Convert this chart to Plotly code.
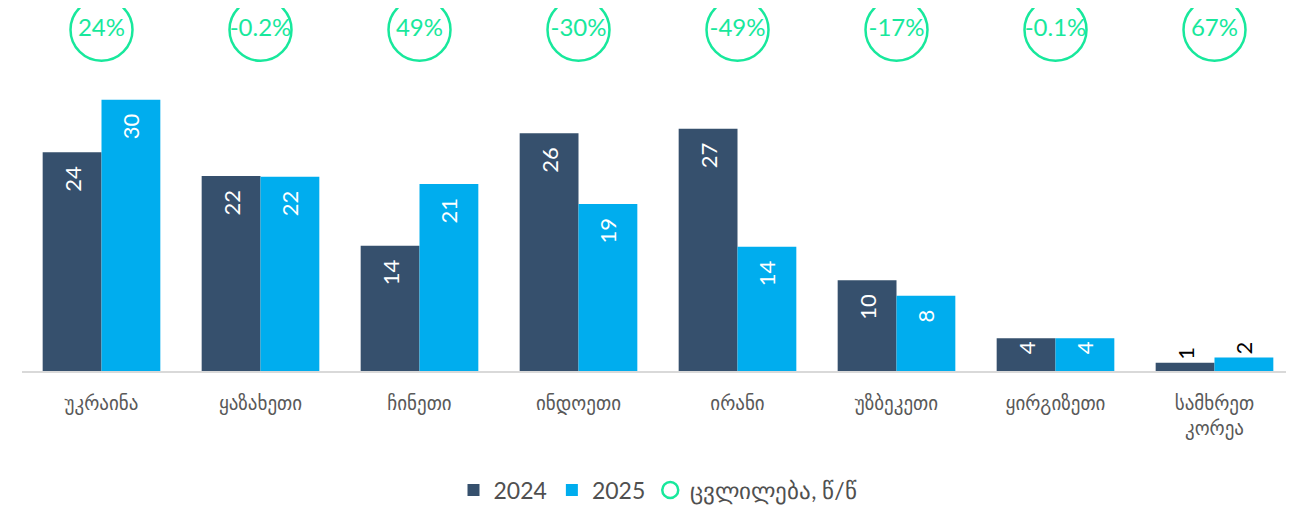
import plotly.graph_objects as go

categories = ["უკრაინა", "ყაზახეთი", "ჩინეთი", "ინდოეთი", "ირანი", "უზბეკეთი", "ყირგიზეთი", "სამხრეთ<br>კორეა"]
values_2024 = [24.1, 21.5, 13.8, 26.2, 26.7, 10.0, 3.6, 0.9]
values_2025 = [29.9, 21.4, 20.6, 18.4, 13.7, 8.3, 3.6, 1.5]
labels_2024 = ["24", "22", "14", "26", "27", "10", "4", "1"]
labels_2025 = ["30", "22", "21", "19", "14", "8", "4", "2"]
change_labels = ["24%", "-0.2%", "49%", "-30%", "-49%", "-17%", "-0.1%", "67%"]

DARK = "#36506D"
LIGHT = "#00ADEE"
GREEN = "#18E89C"
NUM_FONT = "Lato, Open Sans, sans-serif"
GEO_FONT = "DejaVu Sans, Noto Sans, sans-serif"

Y_MAX = 40.0
CIRCLE_Y = 37.6
PAD = "\u2002"

positions = ["inside"] * 7 + ["outside"]


def padded(labels, values):
    return [t + PAD if (p == "inside" and v > 5) else t
            for t, p, v in zip(labels, positions, values)]


fig = go.Figure()
fig.add_trace(go.Bar(
    x=categories, y=values_2024, name="2024", marker=dict(color=DARK, line=dict(width=0)),
    text=padded(labels_2024, values_2024), textposition=positions, textangle=-90,
    insidetextanchor="end",
    insidetextfont=dict(color="white", size=22, family=NUM_FONT),
    outsidetextfont=dict(color="black", size=22, family=NUM_FONT),
    cliponaxis=False,
))
fig.add_trace(go.Bar(
    x=categories, y=values_2025, name="2025", marker=dict(color=LIGHT, line=dict(width=0)),
    text=padded(labels_2025, values_2025), textposition=positions, textangle=-90,
    insidetextanchor="end",
    insidetextfont=dict(color="white", size=22, family=NUM_FONT),
    outsidetextfont=dict(color="black", size=22, family=NUM_FONT),
    cliponaxis=False,
))
fig.add_trace(go.Scatter(
    x=categories, y=[CIRCLE_Y] * len(categories), name="ცვლილება, წ/წ",
    mode="markers+text", text=change_labels, textposition="middle center",
    textfont=dict(color=GREEN, size=24, family=NUM_FONT),
    marker=dict(symbol="circle-open", size=62, color=GREEN, line=dict(width=2.5, color=GREEN)),
    cliponaxis=False,
))

fig.update_layout(
    width=1294, height=510,
    margin=dict(l=14, r=8, t=0, b=147, autoexpand=False),
    plot_bgcolor="white", paper_bgcolor="white",
    barmode="group", bargap=0.26, bargroupgap=0,
    showlegend=True,
    legend=dict(orientation="h", x=0.5, xanchor="center", y=-0.328, yanchor="middle",
                font=dict(size=23, color="#505050", family=NUM_FONT),
                itemwidth=30, traceorder="normal"),
    font=dict(family=GEO_FONT),
)
fig.update_xaxes(range=[-0.5, len(categories) - 0.5], automargin=False,
                 showline=True, linecolor="#D9D9D9", linewidth=2, showgrid=False,
                 ticks="", ticklabelstandoff=14,
                 tickfont=dict(size=19, color="#595959", family=GEO_FONT))
fig.update_yaxes(range=[0, Y_MAX], visible=False, showgrid=False, automargin=False)

fig.write_html("out.html")
